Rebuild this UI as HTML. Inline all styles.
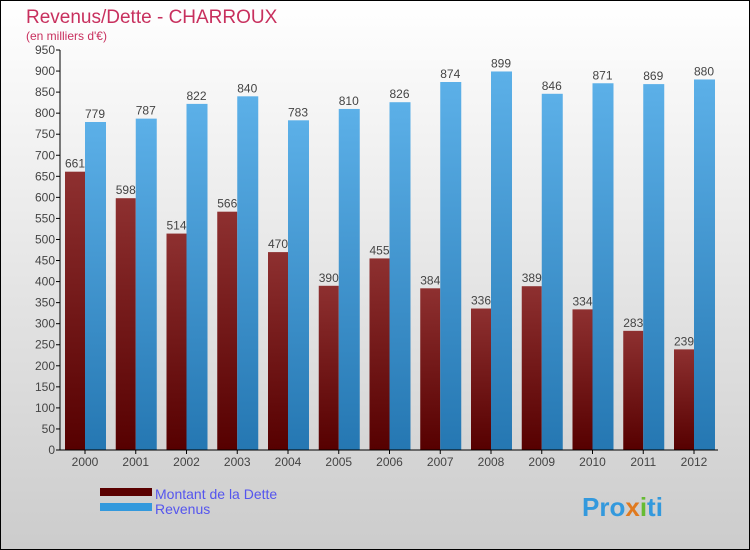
<!DOCTYPE html>
<html><head><meta charset="utf-8"><style>
body{margin:0;width:750px;height:550px;overflow:hidden}
svg{display:block;font-family:"Liberation Sans",sans-serif}
</style></head><body>
<svg id="c" width="750" height="550">
<defs>
<linearGradient id="bg" x1="0" y1="0" x2="0" y2="1"><stop offset="0" stop-color="#ffffff"/><stop offset="1" stop-color="#cccccc"/></linearGradient>
<linearGradient id="gd" x1="0" y1="0" x2="0" y2="1"><stop offset="0" stop-color="#8e3030"/><stop offset="1" stop-color="#560000"/></linearGradient>
<linearGradient id="gr" x1="0" y1="0" x2="0" y2="1"><stop offset="0" stop-color="#5cb0e8"/><stop offset="1" stop-color="#2577b2"/></linearGradient>
</defs>
<rect x="0.5" y="0.5" width="749" height="549" fill="url(#bg)" stroke="#000"/>
<text x="26" y="23" font-size="19" fill="#c8305e">Revenus/Dette - CHARROUX</text>
<text x="26" y="40" font-size="12" fill="#c8305e">(en milliers d'€)</text>
<g id="plot"></g>
<rect x="100" y="488" width="52" height="8" fill="#5a0000"/>
<text x="155" y="499" font-size="14" fill="#5555ee">Montant de la Dette</text>
<rect x="100" y="503" width="52" height="8" fill="#3399dd"/>
<text x="155" y="514" font-size="14" fill="#5555ee">Revenus</text>
<text x="582" y="516" font-size="26" font-weight="bold" fill="#3399dd">Pro<tspan fill="#e07a1f">x</tspan><tspan fill="#66bb33">i</tspan>ti</text>
</svg>
<script>
const years=["2000","2001","2002","2003","2004","2005","2006","2007","2008","2009","2010","2011","2012"];
const dette=[661,598,514,566,470,390,455,384,336,389,334,283,239];
const revenus=[779,787,822,840,783,810,826,874,899,846,871,869,880];
const yTicks=[0,50,100,150,200,250,300,350,400,450,500,550,600,650,700,750,800,850,900,950];
const NS="http://www.w3.org/2000/svg";
const g=document.getElementById('plot');
const y0=450,yTop=50,yMax=950;
const y=v=>y0-(v/yMax)*(y0-yTop);
const x=i=>85+i*50.75;
function mk(t,a){const e=document.createElementNS(NS,t);for(const k in a)e.setAttribute(k,a[k]);g.appendChild(e);return e;}
yTicks.forEach(v=>{
 const l=mk('line',{x1:56,x2:60,y1:y(v),y2:y(v),stroke:'#000'});
 
 
 const t=mk('text',{x:55,y:y(v)+4,'font-size':12,'text-anchor':'end',fill:'#444'});
 t.textContent=v;
 
 
});
years.forEach((yr,i)=>{
 const b1=mk('rect',{x:x(i)-20,y:y(dette[i]),width:20,height:y0-y(dette[i]),fill:'url(#gd)'});
 
 
 const b2=mk('rect',{x:x(i),y:y(revenus[i]),width:21,height:y0-y(revenus[i]),fill:'url(#gr)'});
 
 
 const t1=mk('text',{x:x(i)-10,y:y(dette[i])-4,'font-size':12,'text-anchor':'middle',fill:'#444'});
 t1.textContent=dette[i];
 
 
 const t2=mk('text',{x:x(i)+10,y:y(revenus[i])-4,'font-size':12,'text-anchor':'middle',fill:'#444'});
 t2.textContent=revenus[i];
 
 
 const tk=mk('line',{x1:x(i),x2:x(i),y1:y0,y2:y0+4,stroke:'#000'});
 
 
 const xl=mk('text',{x:x(i),y:466,'font-size':12,'text-anchor':'middle',fill:'#444'});
 xl.textContent=yr;
 
 
});
const ya=mk('line',{x1:60,x2:60,y1:yTop,y2:y0,stroke:'#000'});


const xa=mk('line',{x1:60,x2:718,y1:y0,y2:y0,stroke:'#000'});


</script>
</body></html>
